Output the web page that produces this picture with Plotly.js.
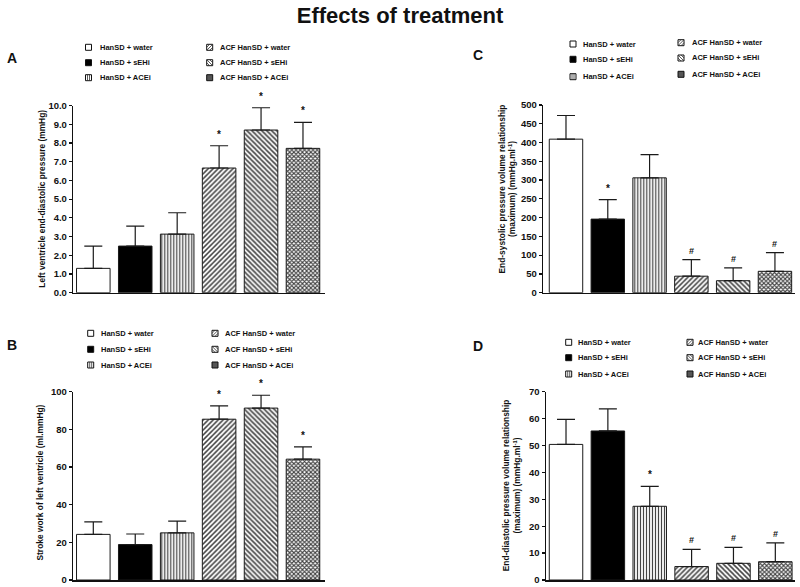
<!DOCTYPE html>
<html><head><meta charset="utf-8">
<script src="https://cdn.plot.ly/plotly-3.0.1.min.js"></script>
<style>html,body{margin:0;padding:0;background:#fff}</style>
</head><body><div id="chart" style="width:800px;height:587px"></div>
<script>
// ---- data ----
const groups = ['HanSD + water','HanSD + sEHi','HanSD + ACEi','ACF HanSD + water','ACF HanSD + sEHi','ACF HanSD + ACEi'];
const lvedpMean = [1.30, 2.49, 3.13, 6.66, 8.69, 7.71];
const lvedpSem  = [1.19, 1.07, 1.14, 1.19, 1.19, 1.39];
const lvedpSig  = ['', '', '', '*', '*', '*'];
const strokeMean = [24.2, 18.8, 25.0, 85.3, 91.2, 64.1];
const strokeSem  = [6.6, 5.6, 6.2, 7.1, 6.8, 6.5];
const strokeSig  = ['', '', '', '*', '*', '*'];
const espvrMean = [409, 196, 306, 44, 32, 57];
const espvrSem  = [63, 52, 62, 44, 34, 50];
const espvrSig  = ['', '*', '', '#', '#', '#'];
const edpvrMean = [50.4, 55.4, 27.4, 5.0, 6.2, 6.8];
const edpvrSem  = [9.3, 8.2, 7.4, 6.4, 5.9, 7.0];
const edpvrSig  = ['', '', '*', '#', '#', '#'];

// ---- styles ----
const FONT = 'Liberation Sans, Arial, Helvetica, sans-serif';
const W = 800, H = 587;
const px = p => p / W, py = p => 1 - p / H;
const barColors = ['#ffffff', '#000000', '#ffffff', '#ffffff', '#ffffff', '#ffffff'];
const patShapes = ['', '', '|', '/', '\\', 'x'];
const patSizes = [4, 4, 3, 3.5, 3.5, 3];
const patSolid = [0.3, 0.3, 0.4, 0.45, 0.45, 0.6];

function barTrace(means, sems, xa, ya) {
  return {
    type: 'bar', x: groups, y: means, xaxis: xa, yaxis: ya, width: 0.8,
    showlegend: false, hoverinfo: 'x+y',
    marker: {
      color: barColors,
      line: {color: '#1a1a1a', width: 1},
      pattern: {shape: patShapes, size: patSizes, solidity: patSolid,
                fgcolor: '#000000', fgopacity: 1, fillmode: 'overlay'}
    },
    error_y: {type: 'data', symmetric: false, array: sems,
              arrayminus: sems.map(() => 0), color: '#1a1a1a', thickness: 1.2, width: 9}
  };
}

const data = [
  barTrace(lvedpMean, lvedpSem, 'x', 'y'),
  barTrace(strokeMean, strokeSem, 'x2', 'y2'),
  barTrace(espvrMean, espvrSem, 'x3', 'y3'),
  barTrace(edpvrMean, edpvrSem, 'x4', 'y4')
];

function xax(l, r, range, anchor) {
  return {domain: [px(l), px(r)], range: range, type: 'category', anchor: anchor,
          categoryorder: 'array', categoryarray: groups,
          showticklabels: false, ticks: '', showgrid: false, zeroline: false,
          showline: true, linecolor: '#111', linewidth: 1.5, fixedrange: true};
}
function yax(bottom, top, range, dtick, fmt, anchor) {
  return {domain: [py(bottom), py(top)], range: range, dtick: dtick, tick0: 0,
          tickformat: fmt, showgrid: false, zeroline: false, anchor: anchor,
          showline: true, linecolor: '#111', linewidth: 1.5,
          ticks: 'outside', ticklen: 3, tickwidth: 1.2, tickcolor: '#111',
          tickfont: {family: FONT, size: 9.5, color: '#111', weight: 'bold'}, fixedrange: true};
}

const annotations = [];
const shapes = [];

function sigMarks(means, sems, sig, xa, ya) {
  sig.forEach((s, i) => {
    if (!s) return;
    annotations.push({x: groups[i], y: means[i] + sems[i], xref: xa, yref: ya,
      text: s, showarrow: false, yanchor: 'bottom', yshift: s === '*' ? 4 : 2,
      font: {family: FONT, size: s === '*' ? 10 : 9, color: '#111', weight: 'bold'}});
  });
}
sigMarks(lvedpMean, lvedpSem, lvedpSig, 'x', 'y');
sigMarks(strokeMean, strokeSem, strokeSig, 'x2', 'y2');
sigMarks(espvrMean, espvrSem, espvrSig, 'x3', 'y3');
sigMarks(edpvrMean, edpvrSem, edpvrSig, 'x4', 'y4');

// panel letters
[['A', 11.5, 57.5], ['B', 12, 345], ['C', 478, 55], ['D', 478, 346]].forEach(([t, x, y]) => {
  annotations.push({x: px(x), y: py(y), xref: 'paper', yref: 'paper', text: t, showarrow: false,
    xanchor: 'center', yanchor: 'middle', font: {family: FONT, size: 14, color: '#111', weight: 'bold'}});
});

// axis titles (rotated)
[['Left ventricle end-diastolic pressure (mmHg)', 41.7, 199],
 ['Stroke work of left ventricle (ml.mmHg)', 39.5, 483],
 ['End-systolic pressure volume relationship<br>(maximum) (mmHg.ml<sup>-1</sup>)', 507.5, 189],
 ['End-diastolic pressure volume relationship<br>(maximum) (mmHg.ml<sup>-1</sup>)', 511.3, 485]
].forEach(([t, x, y]) => {
  annotations.push({x: px(x), y: py(y), xref: 'paper', yref: 'paper', text: t, showarrow: false,
    textangle: -90, xanchor: 'center', yanchor: 'middle',
    font: {family: FONT, size: 8.4, color: '#111', weight: 'bold'}});
});

// legends (manual, two columns of three)
function legend(c1, c2, t1, t2, rows1, rows2) {
  groups.forEach((g, i) => {
    const col = i < 3 ? 0 : 1;
    const cx = col ? c2 : c1, tx = col ? t2 : t1;
    const cy = (col ? rows2 : rows1)[i % 3];
    const s = 3;
    const shp = patShapes[i];
    shapes.push({type: 'rect', xref: 'paper', yref: 'paper',
      x0: px(cx - s), x1: px(cx + s), y0: py(cy + s), y1: py(cy - s),
      fillcolor: i === 1 ? '#000' : (shp === 'x' ? '#555' : '#fff'),
      line: {color: '#111', width: 1}});
    const lines = [];
    if (shp === '|') lines.push([cx - 1, cy - s, cx - 1, cy + s], [cx + 1, cy - s, cx + 1, cy + s]);
    if (shp === '/') lines.push([cx - s, cy + s, cx + s, cy - s], [cx - s, cy, cx, cy - s], [cx, cy + s, cx + s, cy]);
    if (shp === '\\') lines.push([cx - s, cy - s, cx + s, cy + s], [cx - s, cy, cx, cy + s], [cx, cy - s, cx + s, cy]);
    lines.forEach(([a, b, c, d]) => shapes.push({type: 'line', xref: 'paper', yref: 'paper',
      x0: px(a), y0: py(b), x1: px(c), y1: py(d), line: {color: '#333', width: 0.8}}));
    annotations.push({x: px(tx), y: py(cy), xref: 'paper', yref: 'paper', text: g,
      showarrow: false, xanchor: 'left', yanchor: 'middle',
      font: {family: FONT, size: 7.5, color: '#111', weight: 'bold'}});
  });
}
legend(88.5, 209.7, 98, 218, [47.3, 62.7, 77.7], [47.3, 62.7, 77.7]);
legend(90.7, 215, 99, 223, [333.3, 349.3, 365], [333.3, 349.3, 365]);
legend(573, 681, 581, 690, [44, 59.3, 76.7], [42.7, 58, 74.3]);
legend(568.7, 690, 576, 696, [342.3, 357.7, 374], [342.3, 357.7, 374]);

const layout = {
  width: W, height: H, margin: {l: 0, r: 0, t: 0, b: 0},
  paper_bgcolor: '#fff', plot_bgcolor: '#fff', barmode: 'overlay', showlegend: false,
  title: {text: 'Effects of treatment', x: 0.5, xanchor: 'center', xref: 'paper',
          y: 1 - 15 / H, yanchor: 'middle', yref: 'container',
          font: {family: FONT, size: 22, color: '#111', weight: 'bold'}},
  xaxis:  xax(73.3, 325, [-0.477, 5.525], 'y'),
  yaxis:  yax(292.7, 105.5, [0, 10], 1, '.1f', 'x'),
  xaxis2: xax(73.3, 325, [-0.477, 5.525], 'y2'),
  yaxis2: yax(580, 391.5, [0, 100], 20, 'd', 'x2'),
  xaxis3: xax(543.3, 795, [-0.543, 5.48], 'y3'),
  yaxis3: yax(292.7, 105, [0, 500], 50, 'd', 'x3'),
  xaxis4: xax(546, 795, [-0.478, 5.47], 'y4'),
  yaxis4: yax(580, 391.7, [0, 70], 10, 'd', 'x4'),
  annotations: annotations, shapes: shapes
};

Plotly.newPlot('chart', data, layout, {displayModeBar: false, staticPlot: true});
</script></body></html>
